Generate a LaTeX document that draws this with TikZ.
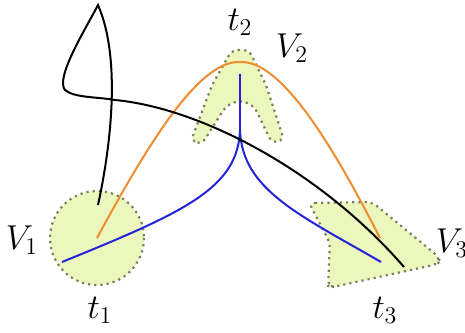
\documentclass[tikz,border=0pt]{standalone}
\usepackage{amsmath}
\definecolor{regfill}{RGB}{236,247,190}
\definecolor{regdots}{RGB}{120,130,90}
\definecolor{curveorange}{RGB}{240,140,45}
\definecolor{curveblue}{RGB}{35,35,215}
\begin{document}
\begin{tikzpicture}[x=0.5pt, y=-0.5pt, line width=1pt,
    region/.style={fill=regfill, draw=regdots, dotted, line width=1.1pt},
    lbl/.style={font=\fontsize{17}{20}\selectfont}]
    \useasboundingbox (0,0) rectangle (465,332);

    % regions
    \draw[region] (97,238) circle (47);
    \draw[region, rounded corners=3pt] (232,50) -- (249,50) -- (266,85) -- (284,140)
        -- (272,143) -- (254,106) -- (240,100) -- (226,106) -- (202,144) -- (191,141)
        -- (212,85) -- cycle;
    \draw[region, rounded corners=3pt] (309,203) -- (372,202) -- (440,258) -- (438,264)
        -- (333,287) -- (328,286) -- (330,243) -- cycle;

    % end points
    \coordinate (o1) at (97,238);
    \coordinate (o2) at (240,62);
    \coordinate (o3) at (380,238);
    \coordinate (b0) at (240,74);
    \coordinate (bc) at (240,130);
    \coordinate (b1) at (62,262);
    \coordinate (b3) at (381,262);
    \coordinate (k0) at (98,205);
    \coordinate (k1) at (98,5);
    \coordinate (k2) at (65,90);
    \coordinate (kx) at (115,100);
    \coordinate (k3) at (404,267);

    % orange
    \draw[curveorange] (o1) .. controls (150,140) and (200,60) .. (o2)
        .. controls (280,60) and (330,140) .. (o3);

    % blue
    \draw[curveblue] (b0) -- (bc);
    \draw[curveblue] (bc) .. controls (238,188) and (185,212) .. (b1);
    \draw[curveblue] (bc) .. controls (242,190) and (300,215) .. (b3);

    % black
    \draw[black] (k0) .. controls (110,150) and (122,60) .. (k1)
        .. controls (85,30) and (55,78) .. (k2)
        .. controls (74,98) and (100,97) .. (kx)
        .. controls (200,108) and (320,170) .. (k3);

    % labels
    \node[lbl] (V1) at (22,240) {$V_1$};
    \node[lbl] (t1) at (100,310) {$t_1$};
    \node[lbl] (t2) at (240,22) {$t_2$};
    \node[lbl] (V2) at (292,48) {$V_2$};
    \node[lbl] (V3) at (452,243) {$V_3$};
    \node[lbl] (t3) at (385,310) {$t_3$};
\end{tikzpicture}
\end{document}
